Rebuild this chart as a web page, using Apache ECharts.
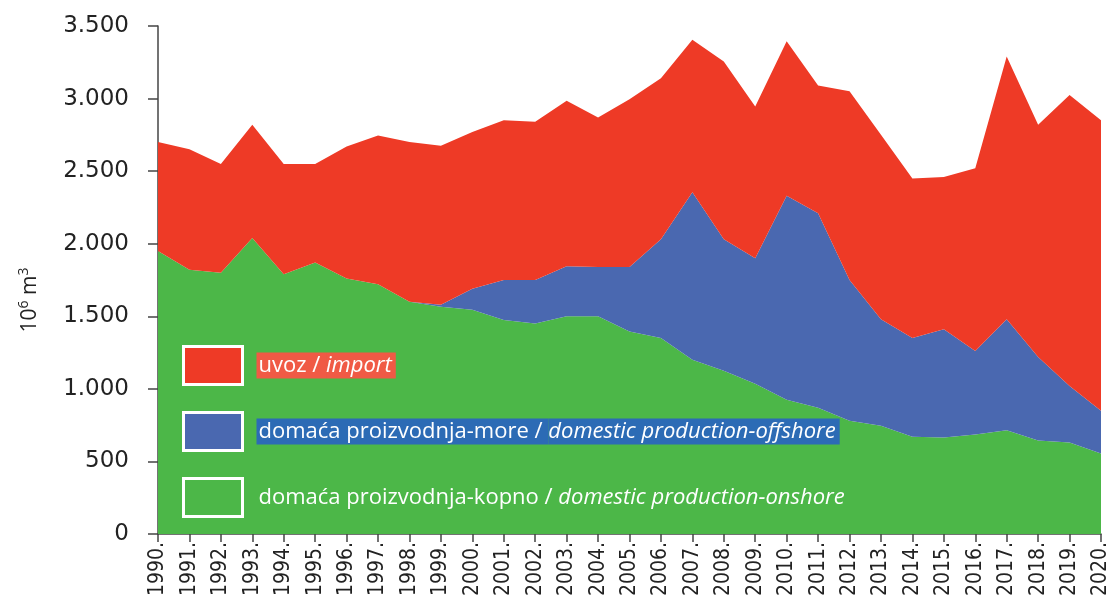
<!DOCTYPE html>
<html>
<head>
<meta charset="utf-8">
<script src="https://cdn.jsdelivr.net/npm/echarts@6/dist/echarts.min.js"></script>
<style>
  html, body { margin: 0; background: #fff; }
  #chart { width: 1115px; height: 608px; }
</style>
</head>
<body>
<div id="chart"></div>
<script>
const years = [
  "1990.", "1991.", "1992.", "1993.", "1994.", "1995.", "1996.", "1997.",
  "1998.", "1999.", "2000.", "2001.", "2002.", "2003.", "2004.", "2005.",
  "2006.", "2007.", "2008.", "2009.", "2010.", "2011.", "2012.", "2013.",
  "2014.", "2015.", "2016.", "2017.", "2018.", "2019.", "2020.",
];

// domaća proizvodnja-kopno (onshore)
const onshore = [
  1950, 1820, 1800, 2040, 1790, 1870, 1760, 1720, 1600, 1565, 1545, 1475,
  1450, 1500, 1500, 1395, 1350, 1200, 1125, 1035, 925, 870, 780, 745, 670,
  665, 685, 715, 645, 630, 555,
];

// domaća proizvodnja-more (offshore)
const offshore = [
  0, 0, 0, 0, 0, 0, 0, 0, 0, 15, 145, 275, 300, 345, 340, 445, 680, 1155,
  905, 865, 1405, 1340, 970, 735, 680, 745, 575, 765, 575, 390, 295,
];

// uvoz (import)
const imports = [
  750, 830, 750, 780, 760, 680, 910, 1025, 1100, 1095, 1080, 1100, 1090,
  1140, 1030, 1155, 1110, 1050, 1225, 1045, 1065, 880, 1300, 1270, 1100,
  1050, 1260, 1810, 1600, 2005, 2000,
];

const seriesNames = [
  "uvoz / import",
  "domaća proizvodnja-more / domestic production-offshore",
  "domaća proizvodnja-kopno / domestic production-onshore",
];

const RED = "#ee3a26";
const BLUE = "#4a68b0";
const GREEN = "#4cb748";
const FONT = "Open Sans";

const chart = echarts.init(document.getElementById("chart"));

const areaSeries = (name, data, color) => ({
  name: name,
  type: "line",
  stack: "total",
  data: data,
  color: color,
  showSymbol: false,
  symbol: "none",
  lineStyle: { width: 0 },
  areaStyle: { color: color, opacity: 1 },
  emphasis: { disabled: true },
});

// legend label pieces
const lbl = (bg, italic) => ({
  color: "#fff",
  fontFamily: FONT,
  fontSize: 22,
  fontStyle: italic ? "italic" : "normal",
  backgroundColor: bg,
  height: 26,
  padding: italic ? [0, 4, 0, 0] : [0, 0, 0, 2],
});

const option = {
  animation: false,
  textStyle: { fontFamily: "DejaVu Sans" },
  grid: { left: 158, right: 14, top: 26, bottom: 74 },
  legend: {
    orient: "vertical",
    left: 177,
    top: 340,
    padding: 5,
    itemWidth: 59,
    itemHeight: 38,
    itemGap: 25,
    icon: "rect",
    selectedMode: false,
    data: [
      { name: seriesNames[0], itemStyle: { color: RED, borderColor: "#fff", borderWidth: 3 } },
      { name: seriesNames[1], itemStyle: { color: BLUE, borderColor: "#fff", borderWidth: 3 } },
      { name: seriesNames[2], itemStyle: { color: GREEN, borderColor: "#fff", borderWidth: 3 } },
    ],
    formatter: (name) => {
      const i = seriesNames.indexOf(name);
      const parts = name.split(" / ");
      const k = ["r", "b", "g"][i];
      return "{sp|}{" + k + "|" + parts[0] + " / }{" + k + "i|" + parts[1] + "}";
    },
    textStyle: {
      color: "#fff",
      fontFamily: FONT,
      fontSize: 22,
      rich: {
        sp: { width: 9 },
        r: lbl("#f05a45", false),
        ri: lbl("#f05a45", true),
        b: lbl("#2c6bb5", false),
        bi: lbl("#2c6bb5", true),
        g: lbl("transparent", false),
        gi: lbl("transparent", true),
      },
    },
  },
  graphic: [
    {
      type: "text",
      x: 29,
      y: 300,
      rotation: Math.PI / 2,
      style: {
        text: "{a|10}{s|6}{a| m}{s|3}",
        align: "center",
        verticalAlign: "middle",
        rich: {
          a: { fontFamily: FONT, fontSize: 21, fill: "#222", lineHeight: 24, verticalAlign: "bottom" },
          s: { fontFamily: FONT, fontSize: 14, fill: "#222", lineHeight: 24, verticalAlign: "top" },
        },
      },
    },
  ],
  xAxis: {
    type: "category",
    data: years,
    boundaryGap: false,
    axisLine: { lineStyle: { color: "#444", width: 1.5 } },
    axisTick: { show: true, length: 8, lineStyle: { color: "#444", width: 1.5 } },
    axisLabel: {
      rotate: 90,
      interval: 0,
      margin: 8,
      color: "#222",
      fontSize: 21,
      fontFamily: "DejaVu Sans Condensed",
    },
    splitLine: { show: false },
  },
  yAxis: {
    type: "value",
    min: 0,
    max: 3500,
    interval: 500,
    axisLine: { show: true, lineStyle: { color: "#444", width: 1.5 } },
    axisTick: { show: true, length: 10, lineStyle: { color: "#444", width: 1.5 } },
    axisLabel: {
      color: "#222",
      fontSize: 23,
      margin: 29,
      formatter: (v) => String(v).replace(/\B(?=(\d{3})+(?!\d))/g, "."),
    },
    splitLine: { show: false },
  },
  series: [
    areaSeries(seriesNames[2], onshore, GREEN),
    areaSeries(seriesNames[1], offshore, BLUE),
    areaSeries(seriesNames[0], imports, RED),
  ],
};

chart.setOption(option);
</script>
</body>
</html>
